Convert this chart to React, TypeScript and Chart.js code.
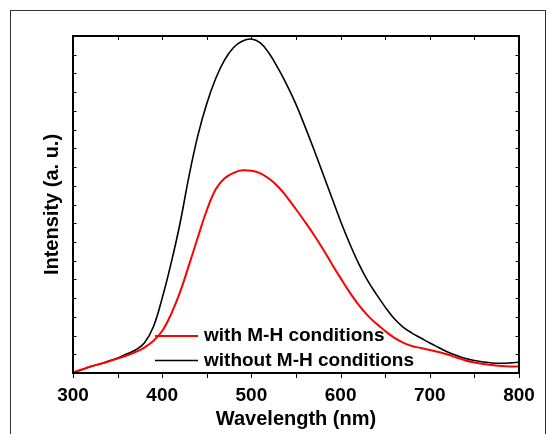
import React, { useEffect, useRef } from "react";
import { Chart, registerables } from "chart.js";

Chart.register(...registerables);

const wavelengths = [
  300, 310, 320, 330, 340, 350, 360, 370, 380, 390,
  400, 410, 420, 430, 440, 450, 460, 470, 480, 490,
  500, 510, 520, 530, 540, 550, 560, 570, 580, 590,
  600, 610, 620, 630, 640, 650, 660, 670, 680, 690,
  700, 710, 720, 730, 740, 750, 760, 770, 780, 790, 800,
];

const withMH = [
  0.5, 3.5, 6.5, 9, 11.5, 14.5, 17.5, 21, 25.5, 32,
  42, 59, 81, 108, 136, 163, 184, 195, 200.5, 203,
  202.5, 200, 194.5, 186.5, 176, 164, 151.5, 138.5, 124.5, 109.5,
  95, 81, 68.5, 58, 49.5, 42, 35.5, 30.5, 27, 25,
  23, 21, 18.5, 15.5, 12.5, 10.5, 9, 8, 7, 6.5, 6.5,
];

const withoutMH = [
  0.5, 3.5, 6.5, 9, 12, 15, 19, 23, 30, 46,
  75, 110, 150, 197, 238, 270, 295, 313.5, 326, 332.5,
  334.5, 330.5, 320, 305, 288, 269, 247, 224, 200, 176,
  152, 130, 110, 93, 79, 66, 54.5, 46, 40, 35,
  30, 25.5, 21, 17.5, 14.5, 12.5, 11, 10, 9.8, 10.1, 10.7,
];

const seriesLabels = ["with M-H conditions", "without M-H conditions"];
const xTickLabels = [300, 400, 500, 600, 700, 800];
const xMinorStep = 50;
const yMax = 337.5;
const yTickStep = 18.75;

const FONT = "'Liberation Sans', Arial, Helvetica, sans-serif";

const framePlugin = {
  id: "framePlugin",
  afterDraw(chart: any) {
    const { ctx, chartArea } = chart;
    const xs = chart.scales.x;
    const ys = chart.scales.y;
    const { left, right, top, bottom } = chartArea;
    ctx.save();
    ctx.strokeStyle = "#000";
    ctx.lineWidth = 1;
    for (let v = xs.min; v <= xs.max + 0.001; v += xMinorStep) {
      const px = Math.round(xs.getPixelForValue(v)) + 0.5;
      ctx.beginPath();
      ctx.moveTo(px, bottom);
      ctx.lineTo(px, bottom + 5);
      ctx.moveTo(px, top);
      ctx.lineTo(px, top + 4);
      ctx.stroke();
    }
    for (let v = 0; v <= ys.max + 0.001; v += yTickStep) {
      const py = Math.round(ys.getPixelForValue(v)) + 0.5;
      ctx.beginPath();
      ctx.moveTo(left, py);
      ctx.lineTo(left + 3.5, py);
      ctx.moveTo(right, py);
      ctx.lineTo(right - 3.5, py);
      ctx.stroke();
    }
    ctx.lineWidth = 2;
    ctx.strokeRect(left, top, right - left, bottom - top);

    const legendX = 155;
    const legendLen = 43;
    const rows = [336, 360.5];
    ctx.font = `bold 19px ${FONT}`;
    ctx.textBaseline = "middle";
    ctx.textAlign = "left";
    chart.data.datasets.forEach((ds: any, i: number) => {
      const y = rows[i];
      ctx.beginPath();
      ctx.strokeStyle = ds.borderColor;
      ctx.lineWidth = ds.borderWidth;
      ctx.moveTo(legendX, y);
      ctx.lineTo(legendX + legendLen, y);
      ctx.stroke();
      ctx.fillStyle = "#000";
      ctx.fillText(ds.label, legendX + legendLen + 6, y);
    });
    ctx.restore();
  },
};

function App() {
  const canvasRef = useRef<HTMLCanvasElement | null>(null);

  useEffect(() => {
    if (!canvasRef.current) return;
    const chart = new Chart(canvasRef.current, {
      type: "line",
      data: {
        labels: wavelengths,
        datasets: [
          {
            label: seriesLabels[0],
            data: wavelengths.map((x, i) => ({ x, y: withMH[i] })),
            borderColor: "#ff0000",
            borderWidth: 2,
            pointRadius: 0,
            tension: 0.4,
            fill: false,
          },
          {
            label: seriesLabels[1],
            data: wavelengths.map((x, i) => ({ x, y: withoutMH[i] })),
            borderColor: "#000000",
            borderWidth: 1.6,
            pointRadius: 0,
            tension: 0.4,
            fill: false,
          },
        ],
      },
      options: {
        animation: false,
        responsive: false,
        maintainAspectRatio: false,
        devicePixelRatio: 1,
        layout: { padding: { top: 36, right: 33, left: 0, bottom: 0 } },
        plugins: {
          legend: { display: false },
          tooltip: { enabled: false },
        },
        scales: {
          x: {
            type: "linear",
            min: 300,
            max: 800,
            grid: { display: false, drawTicks: false },
            border: { display: false },
            afterFit: (scale: any) => {
              scale.height = 61;
            },
            afterBuildTicks: (scale: any) => {
              scale.ticks = xTickLabels.map((v) => ({ value: v }));
            },
            ticks: {
              color: "#000",
              padding: 11.5,
              maxRotation: 0,
              autoSkip: false,
              font: { family: FONT, size: 19, weight: "bold" },
            },
            title: {
              display: true,
              text: "Wavelength (nm)",
              color: "#000",
              padding: { top: 0, bottom: 2.5 },
              font: { family: FONT, size: 20, weight: "bold" },
            },
          },
          y: {
            min: 0,
            max: yMax,
            grid: { display: false, drawTicks: false },
            border: { display: false },
            ticks: { display: false, stepSize: yTickStep },
            afterFit: (scale: any) => {
              scale.width = 73;
            },
            title: {
              display: true,
              text: "Intensity (a. u.)",
              color: "#000",
              padding: { top: 40, bottom: 0 },
              font: { family: FONT, size: 20, weight: "bold" },
            },
          },
        },
      },
      plugins: [framePlugin],
    });
    return () => chart.destroy();
  }, []);

  return (
    <div style={{ position: "fixed", left: 0, top: 0, width: 552, height: 434, background: "#fff", overflow: "hidden" }}>
      <div
        style={{
          position: "absolute",
          left: 10,
          top: 10,
          width: 536,
          height: 440,
          border: "1px solid #333",
          boxSizing: "border-box",
        }}
      />
      <canvas
        ref={canvasRef}
        width={552}
        height={434}
        style={{ position: "absolute", left: 0, top: 0, width: 552, height: 434 }}
      />
    </div>
  );
}

export default App;
